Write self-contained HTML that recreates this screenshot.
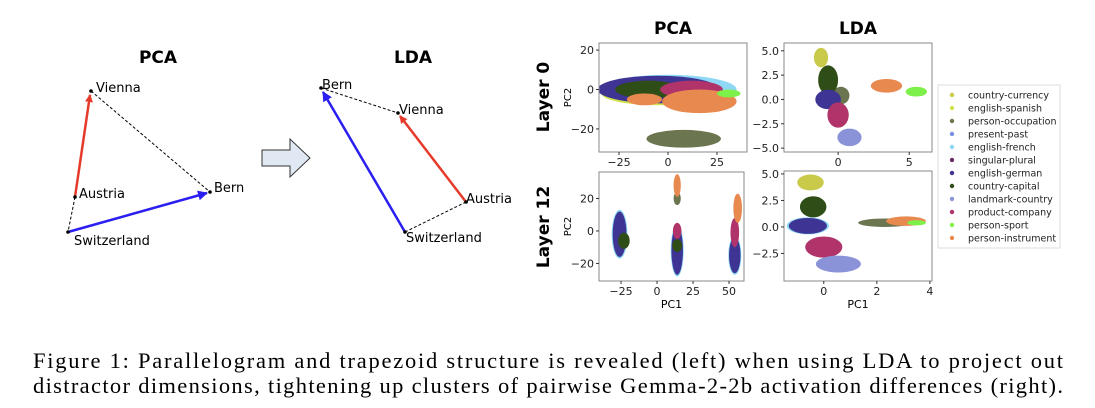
<!DOCTYPE html>
<html><head><meta charset="utf-8"><style>
html,body{margin:0;padding:0;background:#fff;width:1095px;height:408px;overflow:hidden}
svg text{font-family:"DejaVu Sans","Liberation Sans",sans-serif}
svg text.cap{font-family:"Liberation Serif",serif;font-size:22.5px;fill:#000}
</style></head><body>
<svg id="fig" width="1095" height="408" viewBox="0 0 1095 408" xmlns="http://www.w3.org/2000/svg">
<defs>
<marker id="ar" markerWidth="8" markerHeight="8" refX="7" refY="4" orient="auto" markerUnits="userSpaceOnUse"><path d="M0,0 L8,4 L0,8 z" fill="#e63a2a"/></marker>
<marker id="ab" markerWidth="10" markerHeight="10" refX="9" refY="5" orient="auto" markerUnits="userSpaceOnUse"><path d="M0,0 L10,5 L0,10 z" fill="#2a1ff0"/></marker>
</defs>
<g>
<text x="158" y="63" font-size="17" font-weight="bold" text-anchor="middle">PCA</text>
<line x1="91" y1="91" x2="210" y2="192" stroke="#000" stroke-width="1" stroke-dasharray="3,2"/>
<line x1="75" y1="197" x2="68" y2="232" stroke="#000" stroke-width="1" stroke-dasharray="3,2"/>
<line x1="75" y1="197" x2="90" y2="95" stroke="#e63a2a" stroke-width="2.5" marker-end="url(#ar)"/>
<line x1="68" y1="232" x2="207" y2="193" stroke="#2a1ff0" stroke-width="2.5" marker-end="url(#ab)"/>
<circle cx="91" cy="91" r="1.8"/><circle cx="75" cy="197" r="1.8"/><circle cx="68" cy="232" r="1.8"/><circle cx="210" cy="192" r="1.8"/>
<text x="96" y="92" font-size="13">Vienna</text>
<text x="79" y="198" font-size="13">Austria</text>
<text x="74" y="245" font-size="13">Switzerland</text>
<text x="214" y="192" font-size="13">Bern</text>
</g>
<path d="M262,150 L290,150 L290,139 L310,158 L290,177 L290,166 L262,166 Z" fill="#dfe8f3" stroke="#333" stroke-width="1"/>
<g>
<text x="413" y="63" font-size="17" font-weight="bold" text-anchor="middle">LDA</text>
<line x1="321" y1="88" x2="398" y2="113" stroke="#000" stroke-width="1" stroke-dasharray="3,2"/>
<line x1="466" y1="202" x2="405" y2="232" stroke="#000" stroke-width="1" stroke-dasharray="3,2"/>
<line x1="466" y1="202" x2="400" y2="116" stroke="#e63a2a" stroke-width="2.5" marker-end="url(#ar)"/>
<line x1="405" y1="232" x2="323" y2="92" stroke="#2a1ff0" stroke-width="2.5" marker-end="url(#ab)"/>
<circle cx="321" cy="88" r="1.8"/><circle cx="398" cy="113" r="1.8"/><circle cx="466" cy="202" r="1.8"/><circle cx="405" cy="232" r="1.8"/>
<text x="322" y="89" font-size="13">Bern</text>
<text x="399" y="114" font-size="13">Vienna</text>
<text x="466" y="203" font-size="13">Austria</text>
<text x="406" y="242" font-size="13">Switzerland</text>
</g>
<text x="673" y="34" font-size="17" font-weight="bold" text-anchor="middle">PCA</text>
<text x="858" y="34" font-size="17" font-weight="bold" text-anchor="middle">LDA</text>
<text transform="translate(549,97) rotate(-90)" font-size="17" font-weight="bold" text-anchor="middle">Layer 0</text>
<text transform="translate(549,227) rotate(-90)" font-size="17" font-weight="bold" text-anchor="middle">Layer 12</text>
<g id="plots"></g>
<g>
<rect x="938" y="85" width="122" height="163" fill="#fff" stroke="#ddd" stroke-width="1"/>
<g id="leg"></g>
</g>
<text class="cap" x="33" y="368" textLength="1030" lengthAdjust="spacing">Figure 1: Parallelogram and trapezoid structure is revealed (left) when using LDA to project out</text>
<text class="cap" x="33" y="393" textLength="1030" lengthAdjust="spacing">distractor dimensions, tightening up clusters of pairwise Gemma-2-2b activation differences (right).</text>
</svg>
<script>
const categories=["country-currency","english-spanish","person-occupation","present-past","english-french","singular-plural","english-german","country-capital","landmark-country","product-company","person-sport","person-instrument"];
const colors=["#c9c94a","#d2e24c","#6b7550","#7b8fe0","#8fd8f5","#6b2d5e","#3e3494","#2e4d17","#8a93d8","#b0336a","#7ef04a","#e8894f"];
// clusters: [categoryIndex, cx, cy, rx, ry] in data units
const pca0Clusters=[[4,0,0,35,7.5],[1,-5,-2,29,6],[6,-5,0,31,7],[7,-10,0,17,4.5],[9,12,0,16,4.5],[11,16,-6,19,6],[11,-12,-5,9,3],[10,31,-2,6,2],[2,8,-25,19,4.5]];
const lda0Clusters=[[0,-1.2,4.3,0.5,1.0],[2,0.2,0.4,0.6,0.9],[7,-0.7,2.0,0.7,1.5],[6,-0.7,0,0.9,1.0],[9,0,-1.6,0.75,1.3],[8,0.8,-3.9,0.85,0.9],[11,3.4,1.4,1.1,0.7],[10,5.5,0.8,0.75,0.5]];
const pca12Clusters=[[4,-26,-2,5.5,15],[6,-26,-2,4.8,14],[7,-23,-6,4,5],[4,14,-12,4.5,16],[6,14,-12,4,15],[7,14,-9,3.5,4],[9,14,0,3,5],[2,14,20,2.5,4],[11,14,28,2.5,7],[4,54,-15,4.5,12],[6,54,-15,4,11],[9,54,-1,3,9],[11,56,14,3,9]];
const lda12Clusters=[[0,-0.5,4.2,0.5,0.75],[7,-0.4,1.9,0.5,1.0],[4,-0.6,0.1,0.8,0.8],[6,-0.6,0.1,0.72,0.75],[9,0,-1.9,0.7,1.0],[8,0.55,-3.5,0.85,0.8],[2,2.3,0.4,1.0,0.4],[11,3.1,0.55,0.75,0.45],[10,3.5,0.4,0.35,0.25]];
const pca0X=[-25,0,25], pca0Y=[20,0,-20];
const lda0X=[0,5], lda0Y=["5.0","2.5","0.0","-2.5","-5.0"];
const pca12X=[-25,0,25,50], pca12Y=[20,0,-20];
const lda12X=[0,2,4], lda12Y=["5.0","2.5","0.0","-2.5"];
const NS="http://www.w3.org/2000/svg";
function mk(t,a,p){const e=document.createElementNS(NS,t);for(const k in a)e.setAttribute(k,a[k]);p.appendChild(e);return e;}
const plots=[
 {name:"pca-layer0",box:[599,43,747,152],xd:[-35.2,40.3],yd:[-31.7,23.6],cl:pca0Clusters,xt:pca0X,yt:pca0Y,ylab:true,xlab:false},
 {name:"lda-layer0",box:[784,43,932,152],xd:[-3.8,6.6],yd:[-5.4,5.8],cl:lda0Clusters,xt:lda0X,yt:lda0Y,ylab:false,xlab:false},
 {name:"pca-layer12",box:[599,172,744,281],xd:[-40.3,60.4],yd:[-30.8,36.3],cl:pca12Clusters,xt:pca12X,yt:pca12Y,ylab:true,xlab:true},
 {name:"lda-layer12",box:[784,171,932,281],xd:[-1.5,4.08],yd:[-5.1,5.28],cl:lda12Clusters,xt:lda12X,yt:lda12Y,ylab:false,xlab:true}];
const root=document.getElementById('plots');
plots.forEach((p,i)=>{
 const [x0,y0,x1,y1]=p.box;
 const sx=v=>x0+(v-p.xd[0])/(p.xd[1]-p.xd[0])*(x1-x0);
 const sy=v=>y1-(v-p.yd[0])/(p.yd[1]-p.yd[0])*(y1-y0);
 const g=mk('g',{},root);
 
 
 const cp=mk('clipPath',{id:'cp'+i},g);mk('rect',{x:x0,y:y0,width:x1-x0,height:y1-y0},cp);
 const dg=mk('g',{'clip-path':'url(#cp'+i+')'},g);
 p.cl.forEach(c=>{
  const e=mk('ellipse',{cx:sx(c[1]),cy:sy(c[2]),rx:Math.abs(sx(c[1]+c[3])-sx(c[1])),ry:Math.abs(sy(c[2]+c[4])-sy(c[2])),fill:colors[c[0]]},dg);
  
  
 });
 const fr=mk('rect',{x:x0,y:y0,width:x1-x0,height:y1-y0,fill:'none',stroke:'#888','stroke-width':1},g);
 
 
 p.xt.forEach(t=>{const X=sx(+t);mk('line',{x1:X,x2:X,y1:y1,y2:y1+3,stroke:'#333'},g);
  const tx=mk('text',{x:X,y:y1+14,'font-size':11,'text-anchor':'middle',fill:'#222'},g);tx.textContent=String(t).replace('-','−');
  
  });
 p.yt.forEach(t=>{const Y=sy(+t);mk('line',{x1:x0-3,x2:x0,y1:Y,y2:Y,stroke:'#333'},g);
  const tx=mk('text',{x:x0-5,y:Y+4,'font-size':11,'text-anchor':'end',fill:'#222'},g);tx.textContent=String(t).replace('-','−');
  
  });
 if(p.ylab){const t=mk('text',{transform:`translate(571,${(y0+y1)/2}) rotate(-90)`,'font-size':10,'text-anchor':'middle'},g);t.textContent='PC2';
  
  }
 if(p.xlab){const t=mk('text',{x:(x0+x1)/2,y:y1+27,'font-size':11,'text-anchor':'middle'},g);t.textContent='PC1';
  
  }
});
const leg=document.getElementById('leg');
categories.forEach((c,i)=>{const y=95+i*13;
 const d=mk('circle',{cx:952,cy:y,r:2.2,fill:colors[i]},leg);
 
 
 const t=mk('text',{x:968,y:y+3.5,'font-size':9.5,fill:'#222'},leg);t.textContent=c;
 
 
});
</script>
</body></html>
